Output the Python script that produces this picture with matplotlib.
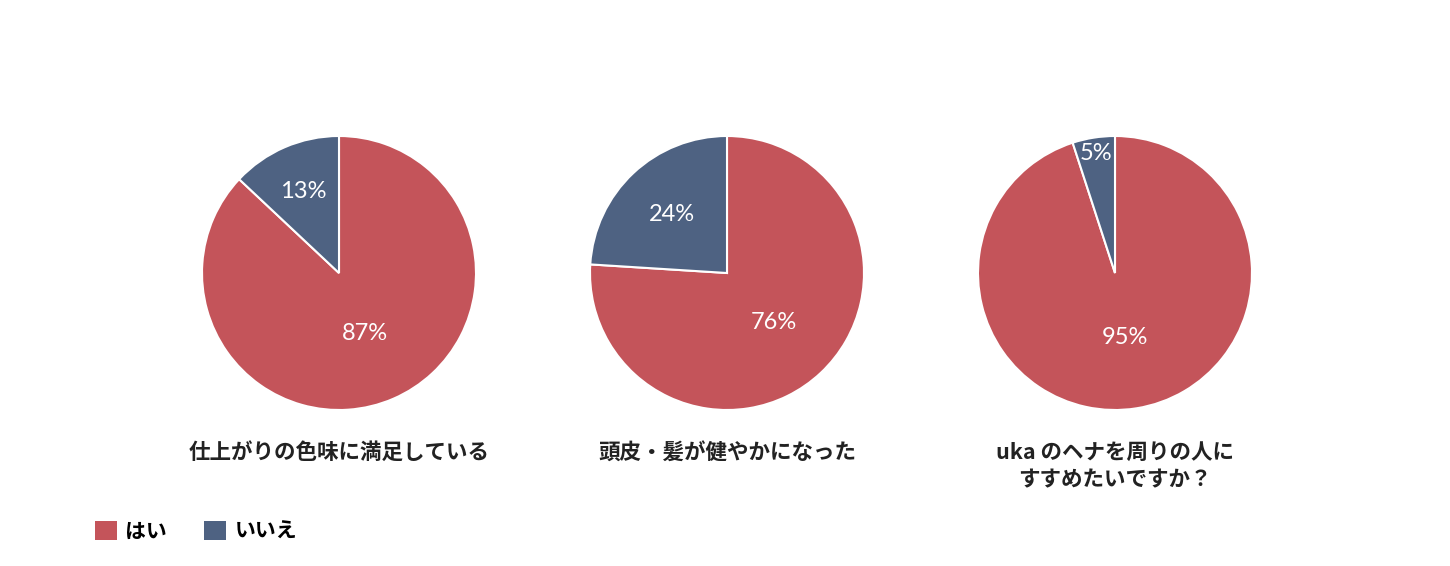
import matplotlib.pyplot as plt
import numpy as np

plt.rcParams['font.family'] = ['Noto Sans CJK JP', 'DejaVu Sans']

# データ
questions = ["仕上がりの色味に満足している",
             "頭皮・髪が健やかになった",
             "uka のヘナを周りの人に\nすすめたいですか？"]
hai = [87, 76, 95]
iie = [13, 24, 5]
legend_labels = ["はい", "いいえ"]
colors = ["#C4545A", "#4E6282"]

# ラベルの中心からの距離（はい, いいえ）
label_dist = [(0.48, 0.65), (0.50, 0.59), (0.48, 0.88)]

W, H = 1450, 566
fig = plt.figure(figsize=(W / 100, H / 100), dpi=100)

centers_x = [339, 727, 1115]
cy = 273
r = 137

wedges = None
for i, q in enumerate(questions):
    ax = fig.add_axes([(centers_x[i] - r) / W, (H - cy - r) / H, 2 * r / W, 2 * r / H])
    vals = [hai[i], iie[i]]
    wedges, _ = ax.pie(vals, colors=colors, startangle=90, counterclock=False,
                       radius=1, wedgeprops=dict(edgecolor="white", linewidth=1.5))
    ax.set_aspect("equal")
    ax.set_xlim(-1, 1)
    ax.set_ylim(-1, 1)

    # パーセント表示
    start = 0
    for v, d in zip(vals, label_dist[i]):
        mid = 90 - (start + v / 2) / sum(vals) * 360
        ax.text(d * np.cos(np.radians(mid)), d * np.sin(np.radians(mid)), f"{v}%",
                ha="center", va="center", color="white", fontsize=17,
                family=["Lato", "DejaVu Sans"], fontweight="normal")
        start += v

    # 質問テキスト
    fig.text(centers_x[i] / W, (H - 442) / H, q, ha="center", va="top",
             fontsize=15.5, fontweight="bold", color="#222222", linespacing=1.35)

# 凡例
leg = fig.legend(wedges, legend_labels, loc="center left",
                 bbox_to_anchor=(76 / W, (H - 531) / H), ncol=2, frameon=False,
                 prop={"size": 15, "weight": "bold"}, handlelength=1.05,
                 handleheight=1.05, handletextpad=0.4, columnspacing=1.8)
for h in leg.legend_handles:
    h.set_edgecolor("none")

fig.savefig("out.png", dpi=100, facecolor="white")
